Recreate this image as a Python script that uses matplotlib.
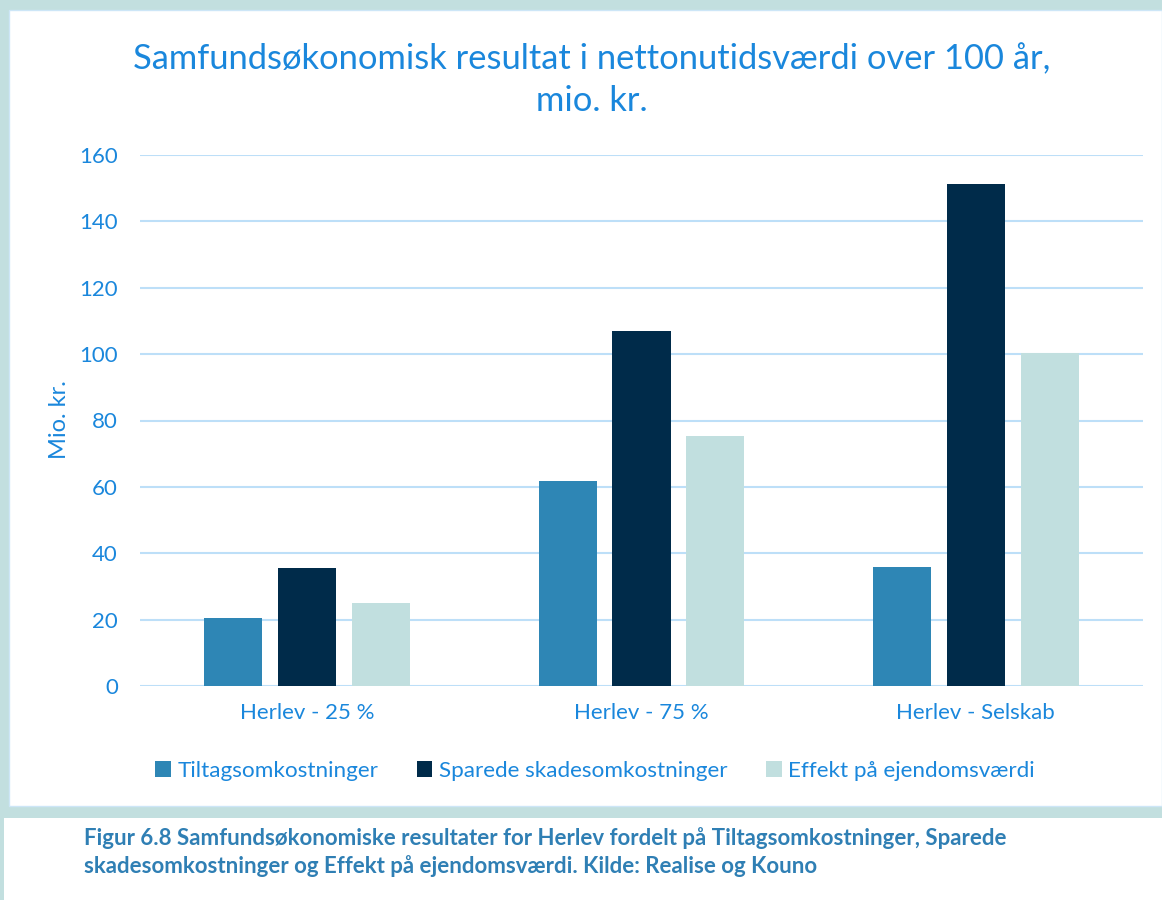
import matplotlib
matplotlib.use("Agg")
import matplotlib.pyplot as plt
import numpy as np
from matplotlib.patches import Rectangle

categories = ["Herlev - 25 %", "Herlev - 75 %", "Herlev - Selskab"]
series_names = ["Tiltagsomkostninger", "Sparede skadesomkostninger", "Effekt på ejendomsværdi"]
tiltag = [20.5, 61.8, 35.9]
sparede = [35.5, 107.0, 151.2]
effekt = [25.0, 75.3, 100.3]
yticks = [0, 20, 40, 60, 80, 100, 120, 140, 160]

colors = ["#2E86B5", "#002B4A", "#C1DFDF"]
text_blue = "#1A87DC"
grid_col = "#BDDFF8"
teal = "#C2DFDF"

plt.rcParams['font.family'] = ['Lato', 'DejaVu Sans']

W, H = 1162, 900
fig = plt.figure(figsize=(W / 100, H / 100), dpi=100)
fig.patch.set_facecolor(teal)

def fx(px):
    return px / W

def fy(py):
    return 1 - py / H

# white chart panel
fig.patches.append(Rectangle((fx(9), fy(806)), fx(1162) - fx(9), fy(10) - fy(806),
                             transform=fig.transFigure, facecolor="white",
                             edgecolor="#CDE6F7", lw=1.0, zorder=-5))
# caption panel
fig.patches.append(Rectangle((fx(4), fy(900)), 1, fy(818) - fy(900),
                             transform=fig.transFigure, facecolor="white",
                             edgecolor="none", zorder=-5))

ax = fig.add_axes([fx(140), fy(686), fx(1143) - fx(140), fy(155) - fy(686)])
ax.set_facecolor("none")
ax.set_zorder(2)

x = np.arange(len(categories))
off = 0.221
w = 0.174
for i, (vals, c, name) in enumerate(zip([tiltag, sparede, effekt], colors, series_names)):
    ax.bar(x + (i - 1) * off, vals, width=w, color=c, label=name, zorder=3)

ax.set_xlim(-0.5, 2.5)
ax.set_ylim(0, 160)
ax.set_yticks(yticks)
ax.set_xticks(x)
ax.set_xticklabels(categories)
ax.grid(axis="y", color=grid_col, lw=1.5, zorder=0)
ax.set_axisbelow(True)
for s in ax.spines.values():
    s.set_visible(False)
ax.tick_params(axis="both", length=0, labelcolor=text_blue, labelsize=16)
ax.tick_params(axis="y", pad=16)
ax.tick_params(axis="x", pad=12)

fig.text(fx(592), fy(59), "Samfundsøkonomisk resultat i nettonutidsværdi over 100 år,",
         ha="center", va="center", fontsize=24.8, color=text_blue)
fig.text(fx(592), fy(101), "mio. kr.", ha="center", va="center", fontsize=24.8, color=text_blue)

fig.text(fx(60), fy(420), "Mio. kr.", rotation=90, ha="center", va="center",
         fontsize=17, color=text_blue)

handles, labels = ax.get_legend_handles_labels()
leg = fig.legend(handles, labels, loc="center", bbox_to_anchor=(fx(595), fy(771)), ncol=3,
                 frameon=False, fontsize=16.2, handlelength=0.7, handleheight=0.7,
                 handletextpad=0.3, columnspacing=1.7)
for t in leg.get_texts():
    t.set_color(text_blue)

cap_col = "#2F7FB4"
fig.text(fx(84), fy(838), "Figur 6.8 Samfundsøkonomiske resultater for Herlev fordelt på Tiltagsomkostninger, Sparede",
         ha="left", va="center", fontsize=16, fontweight="bold", color=cap_col)
fig.text(fx(84), fy(866), "skadesomkostninger og Effekt på ejendomsværdi. Kilde: Realise og Kouno",
         ha="left", va="center", fontsize=16, fontweight="bold", color=cap_col)

fig.savefig("out.png", dpi=100, facecolor=fig.get_facecolor())
